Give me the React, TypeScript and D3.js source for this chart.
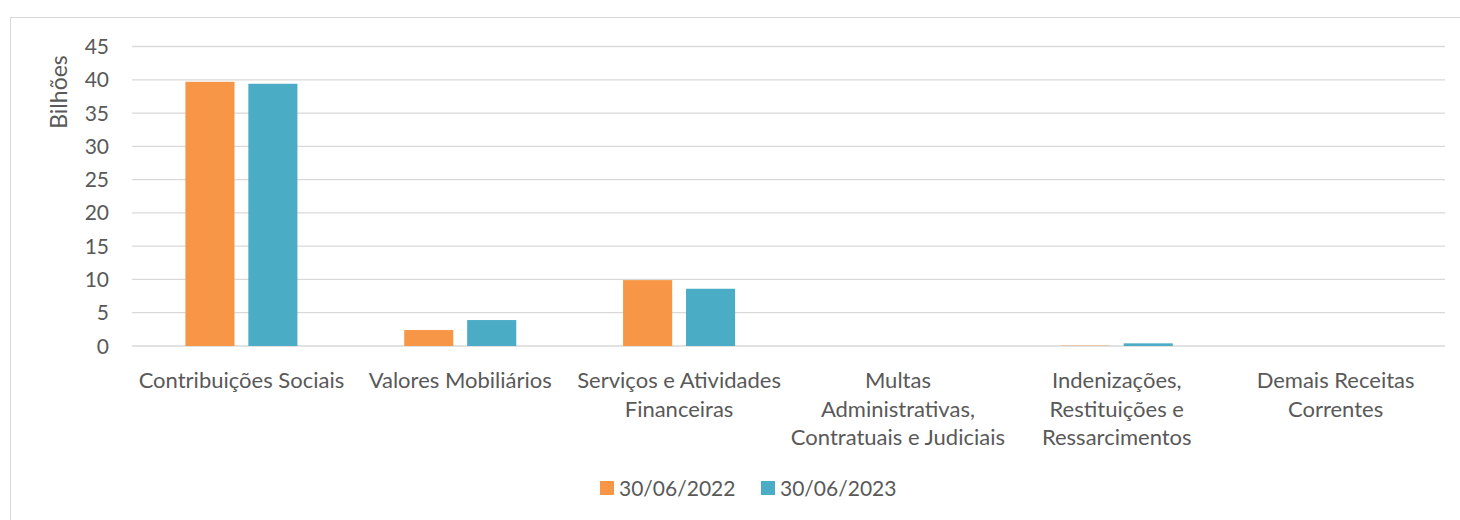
import * as d3 from 'd3';

const categories = [
  ['Contribuições Sociais'],
  ['Valores Mobiliários'],
  ['Serviços e Atividades', 'Financeiras'],
  ['Multas', 'Administrativas,', 'Contratuais e Judiciais'],
  ['Indenizações,', 'Restituições e', 'Ressarcimentos'],
  ['Demais Receitas', 'Correntes'],
];
const series = ['30/06/2022', '30/06/2023'];
const values2022 = [39.7, 2.4, 9.9, 0, 0.1, 0];
const values2023 = [39.4, 3.9, 8.6, 0, 0.4, 0];
const yTicks = [0, 5, 10, 15, 20, 25, 30, 35, 40, 45];
const colors = ['#F79646', '#4BACC6'];

const W = 1460, H = 520;
const left = 132, right = 1445, top = 46.5, bottom = 346;
const font = 'Lato, "Open Sans", sans-serif';
const textColor = '#595959';

export default function App() {
  const keys = categories.map((c) => c.join(' '));
  const x0 = d3.scaleBand<string>().domain(keys).range([left, right]).padding(0);
  const groupW = x0.bandwidth() * 0.512;
  const x1 = d3.scaleBand<string>().domain(series).range([0, groupW]).paddingInner(0.22);
  const y = d3.scaleLinear().domain([0, 45]).range([bottom, top]);
  const data = [values2022, values2023];

  return (
    <svg width={W} height={H} style={{ position: 'absolute', left: 0, top: 0 }} fontFamily={font}>
      <rect x={0} y={0} width={W} height={H} fill="#fff" />
      <rect x={10.5} y={17.5} width={W} height={H} fill="none" stroke="#d9d9d9" />
      {yTicks.map((t) => (
        <g key={t}>
          <line x1={left} x2={right} y1={y(t)} y2={y(t)} stroke="#d9d9d9" strokeWidth={1.3} />
          <text x={109} y={y(t)} dy="0.36em" textAnchor="end" fontSize={21} fill={textColor}>{t}</text>
        </g>
      ))}
      <text transform={`translate(67,${92}) rotate(-90)`} textAnchor="middle" fontSize={23} fill={textColor}>Bilhões</text>
      {keys.map((k, i) => {
        const gx = x0(k)! + (x0.bandwidth() - groupW) / 2;
        return (
          <g key={k}>
            {series.map((s, j) => {
              const v = data[j][i];
              return (
                <rect key={s} x={gx + x1(s)!} width={x1.bandwidth()} y={y(v)} height={y(0) - y(v)}
                  fill={colors[j]} opacity={v < 0.2 && v > 0 ? 0.5 : 1} />
              );
            })}
            {categories[i].map((line, li) => (
              <text key={li} x={x0(k)! + x0.bandwidth() / 2} y={388 + li * 28.5} textAnchor="middle"
                fontSize={22} fill={textColor}>{line}</text>
            ))}
          </g>
        );
      })}
      {series.map((s, j) => {
        const lx = [600, 761][j];
        return (
          <g key={s}>
            <rect x={lx} y={481} width={14} height={14} fill={colors[j]} />
            <text x={lx + 19} y={488} dy="0.36em" fontSize={21} fill={textColor}>{s}</text>
          </g>
        );
      })}
    </svg>
  );
}
